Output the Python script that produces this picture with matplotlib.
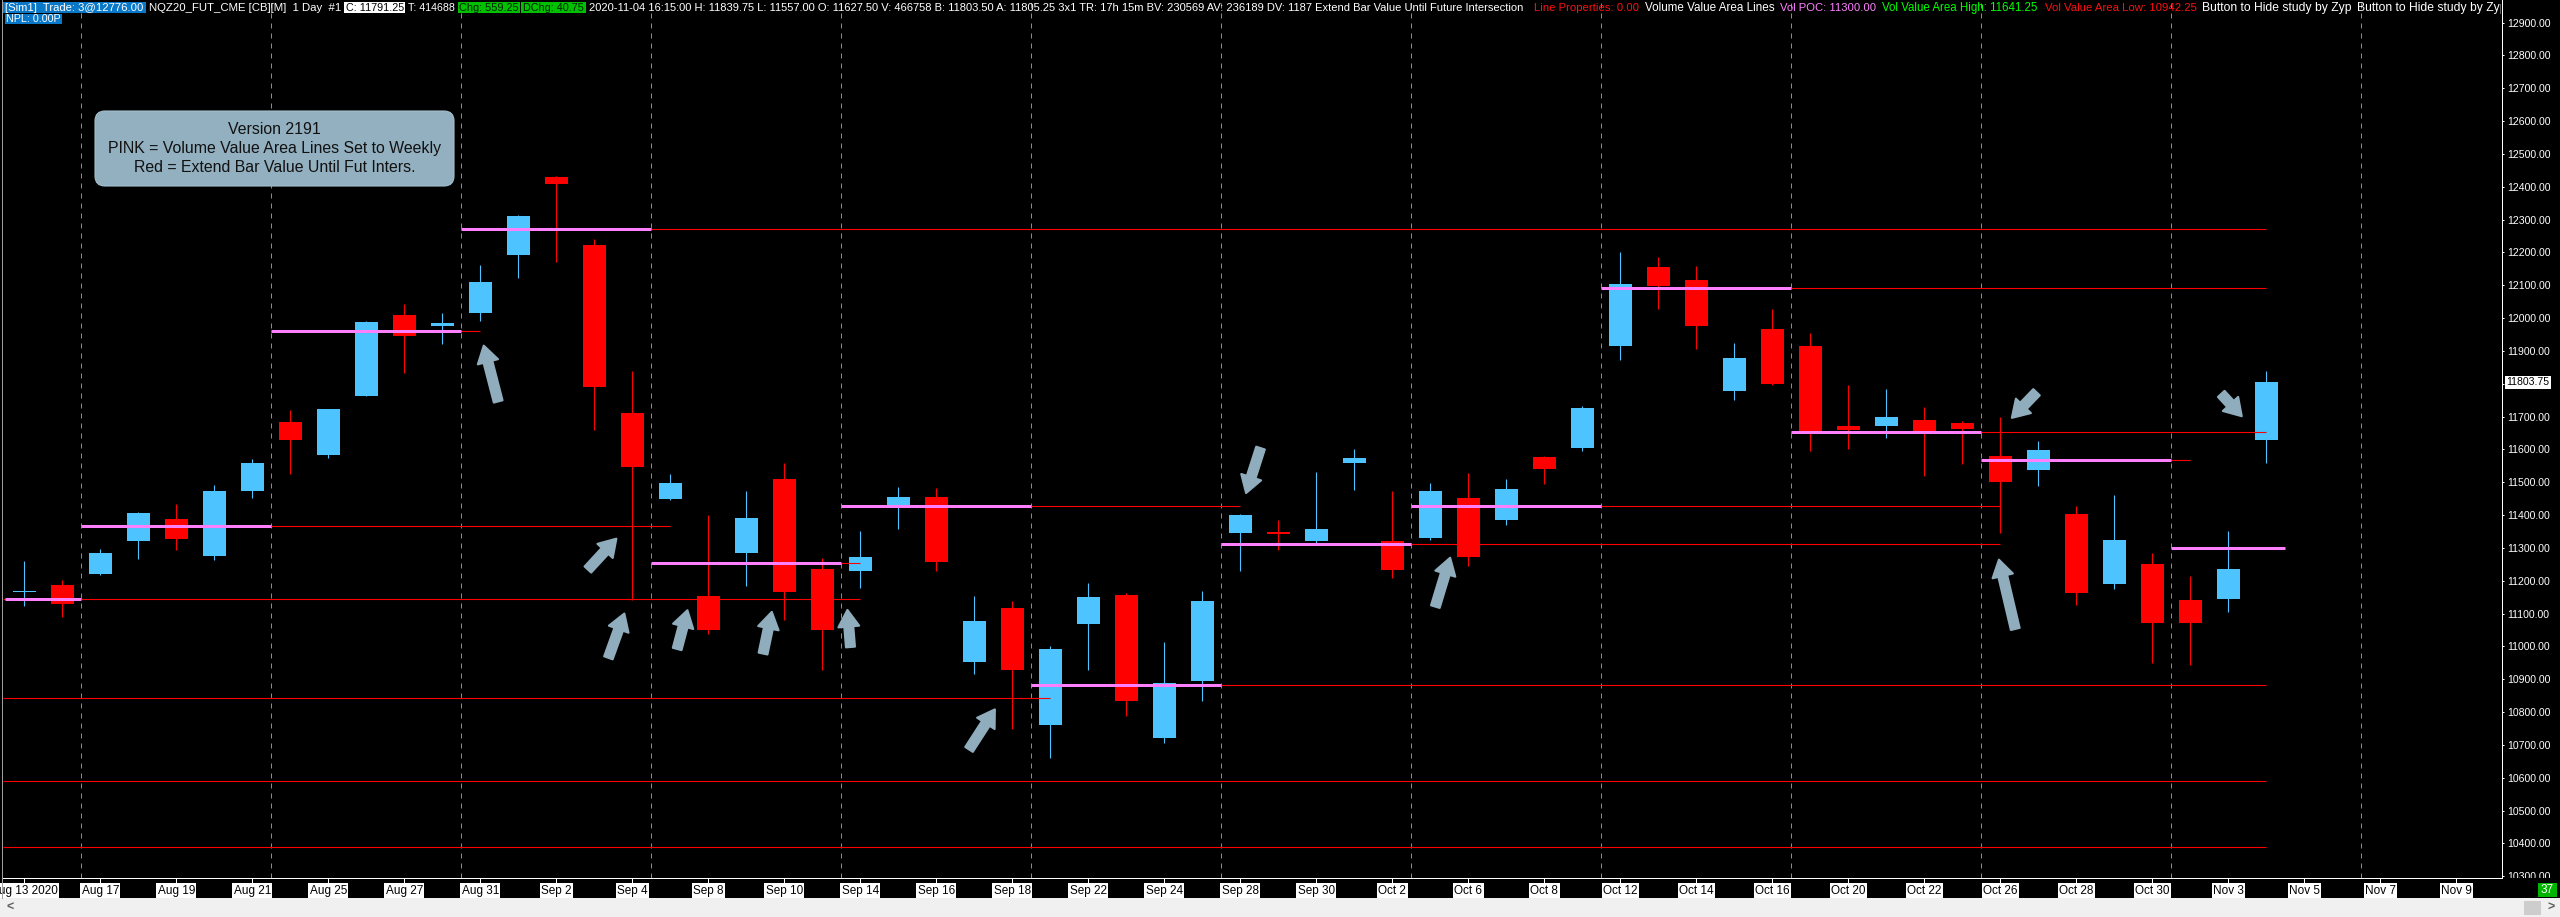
import numpy as np
import matplotlib
matplotlib.use("Agg")
import matplotlib.pyplot as plt
from matplotlib.patches import FancyArrowPatch, FancyBboxPatch, Rectangle
from matplotlib.transforms import IdentityTransform, Bbox
from matplotlib.lines import Line2D

plt.rcParams['font.family'] = ['Liberation Sans', 'DejaVu Sans']

# ---------------- data ----------------
dates = ["Aug 13", "Aug 14", "Aug 17", "Aug 18", "Aug 19", "Aug 20", "Aug 21",
         "Aug 24", "Aug 25", "Aug 26", "Aug 27", "Aug 28", "Aug 31",
         "Sep 1", "Sep 2", "Sep 3", "Sep 4", "Sep 7", "Sep 8", "Sep 9", "Sep 10", "Sep 11",
         "Sep 14", "Sep 15", "Sep 16", "Sep 17", "Sep 18", "Sep 21", "Sep 22", "Sep 23",
         "Sep 24", "Sep 25", "Sep 28", "Sep 29", "Sep 30",
         "Oct 1", "Oct 2", "Oct 5", "Oct 6", "Oct 7", "Oct 8", "Oct 9", "Oct 12", "Oct 13",
         "Oct 14", "Oct 15", "Oct 16", "Oct 19", "Oct 20", "Oct 21", "Oct 22", "Oct 23",
         "Oct 26", "Oct 27", "Oct 28", "Oct 29", "Oct 30", "Nov 2", "Nov 3", "Nov 4"]

opens = [11167, 11187.5, 11221.5, 11322, 11387.5, 11275.75, 11474.5,
         11683.75, 11583.25, 11764, 12008.75, 11974.75, 12014.25,
         12192.25, 12430.25, 12222.25, 11711, 11450, 11153.5, 11285.5, 11509.75, 11235,
         11231, 11420, 11455.25, 10951, 11116.75, 10759, 11069, 11156,
         10719.75, 10895, 11344, 11348, 11320.75,
         11557.25, 11319.5, 11329, 11451.25, 11386, 11576.5, 11605, 11916.25, 12155.5,
         12116.25, 11777.5, 11966.5, 11915, 11671.5, 11671.5, 11689.25, 11679.75,
         11580.5, 11537, 11403.5, 11190.25, 11251.5, 11141.25, 11145.25, 11627.5]
highs = [11259.5, 11201, 11296, 11410.5, 11433.5, 11492, 11571,
         11720.5, 11723.25, 11991, 12042.75, 12015.5, 12161,
         12313.5, 12433, 12240, 11838.75, 11524.75, 11399.5, 11473, 11558.75, 11269,
         11352, 11485.25, 11481.25, 11153.5, 11138.5, 11001, 11193, 11163,
         11013.5, 11168.5, 11402.25, 11386, 11531.5,
         11602.25, 11473, 11499, 11527.5, 11509.75, 11580.5, 11732.75, 12200.5, 12185.5,
         12158.5, 11924.5, 12027.75, 11954.5, 11796.5, 11784.5, 11728.75, 11686.5,
         11698.75, 11625.25, 11428, 11460.75, 11284, 11214.5, 11352, 11839.75]
lows = [11123.5, 11089.5, 11218.75, 11265, 11295, 11263.5, 11452.5,
        11526, 11572.25, 11761.25, 11833.5, 11920.5, 11992.5,
        12121.5, 12172, 11658, 11141.25, 11444.5, 11038, 11184.75, 11078.75, 10926.5,
        11179.25, 11356, 11228.25, 10917, 10747, 10659.75, 10926.5, 10787.75,
        10706, 10835, 11231, 11295, 11314,
        11477, 11209.25, 11324.75, 11243.25, 11368.25, 11493.5, 11594, 11872.75, 12026.5,
        11906.75, 11750.5, 11796.5, 11595.5, 11600.75, 11634.75, 11518, 11556,
        11345.25, 11488, 11126.25, 11175.25, 10948, 10944, 11106, 11557]
closes = [11169, 11130.5, 11284, 11406.5, 11327.5, 11473, 11558.75,
          11629.5, 11723.25, 11988.5, 11946.25, 11984.25, 12109.5,
          12310.75, 12407.25, 11791.25, 11545, 11497.5, 11048.75, 11391.5, 11164.25, 11050,
          11271.75, 11455.25, 11255.5, 11077.25, 10929, 10991.5, 11150.75, 10832.5,
          10889.5, 11138.5, 11399.5, 11341, 11358.75,
          11575, 11233.75, 11471.75, 11273, 11478.5, 11541, 11727.25, 12105.25, 12097.25,
          11976.25, 11878.25, 11799.5, 11656.5, 11659.25, 11698.75, 11656.5, 11662,
          11500.25, 11598, 11163, 11323.5, 11072, 11072, 11235, 11803.75]

x_tick_labels = ["Aug 13 2020", "Aug 17", "Aug 19", "Aug 21", "Aug 25", "Aug 27", "Aug 31",
                 "Sep 2", "Sep 4", "Sep 8", "Sep 10", "Sep 14", "Sep 16", "Sep 18", "Sep 22",
                 "Sep 24", "Sep 28", "Sep 30", "Oct 2", "Oct 6", "Oct 8", "Oct 12", "Oct 14",
                 "Oct 16", "Oct 20", "Oct 22", "Oct 26", "Oct 28", "Oct 30", "Nov 3", "Nov 5",
                 "Nov 7", "Nov 9"]

price_ticks = list(range(10300, 13000, 100))

# week separators (bar-index boundaries)
week_separators = [1.5, 6.5, 11.5, 16.5, 21.5, 26.5, 31.5, 36.5, 41.5, 46.5, 51.5, 56.5, 61.5]

# weekly volume value area lines (pink)
pink_start = [-0.5, 1.5, 6.5, 11.5, 16.5, 21.5, 26.5, 31.5, 36.5, 41.5, 46.5, 51.5, 56.5]
pink_end = [1.5, 6.5, 11.5, 16.5, 21.5, 26.5, 31.5, 36.5, 41.5, 46.5, 51.5, 56.5, 59.5]
pink_levels = [11144, 11366, 11960, 12270, 11253, 11427, 10882, 11311, 11427, 12093,
               11652.5, 11568, 11300]

# extend-bar-value lines (red); None start = from left edge
ext_levels = [11144, 10842, 10591, 10388, 11366, 11960, 12270, 11253, 11427, 10882,
              11311, 11427, 12093, 11652.5, 11568]
ext_start = [None, None, None, None, 1.5, 6.5, 11.5, 16.5, 21.5, 26.5,
             31.5, 36.5, 41.5, 46.5, 51.5]
ext_end = [22, 27, 59, 59, 17, 12, 59, 22, 32, 59, 52, 52, 59, 59, 57]

# annotation arrows: (bar index, price) tail -> head
arrow_tail = [(12.47, 11746), (14.83, 11234), (15.37, 10965), (17.18, 10992),
              (19.44, 10978), (21.74, 10998), (24.86, 10686), (32.53, 11604),
              (37.13, 11121), (52.95, 11774), (52.39, 11053), (57.81, 11769)]
arrow_head = [(12.09, 11916), (15.58, 11328), (15.79, 11100), (17.45, 11110),
              (19.67, 11105), (21.66, 11111), (25.54, 10808), (32.15, 11467),
              (37.52, 11270), (52.30, 11696), (51.96, 11264), (58.35, 11701)]

# ---------------- styling ----------------
W, H = 2560, 917
BLUE = '#4dc4ff'
RED = '#ff0000'
PINK = '#ff80ff'
ARROW = '#8fadbd'
PX = 0.72  # one pixel in points

fig = plt.figure(figsize=(W / 100, H / 100), dpi=100, facecolor='black')

AX_L, AX_R, AX_B = 3, 2501.7, 878
ax = fig.add_axes([AX_L / W, 1 - AX_B / H, (AX_R - AX_L) / W, AX_B / H])
ax.set_facecolor('black')
ax.set_xlim(-0.56, 65.19)
ax.set_ylim(10294.4, 12968.8)
xmin = ax.get_xlim()[0]

for s in ('top', 'left'):
    ax.spines[s].set_visible(False)
for s in ('bottom', 'right'):
    ax.spines[s].set_color('white')
    ax.spines[s].set_linewidth(1.0 * PX)

# week separators
for xs in week_separators:
    ax.axvline(xs, color='#8a8a8a', lw=1 * PX, linestyle=(0, (5, 5)), zorder=1)

# candles
o = np.array(opens); h = np.array(highs); l = np.array(lows); c = np.array(closes)
xi = np.arange(len(dates))
cols = np.where(c >= o, BLUE, RED)
ax.vlines(xi, l, h, colors=cols, lw=1.1 * PX, zorder=3)
body_bottom = np.minimum(o, c)
body_h = np.maximum(np.abs(c - o), 3.0)
ax.bar(xi, body_h, bottom=body_bottom, width=0.6, color=cols, linewidth=0, zorder=3)

# red extension lines
starts = [xmin if s is None else s for s in ext_start]
ax.hlines(ext_levels, starts, ext_end, colors=RED, lw=1.1 * PX, zorder=4)
# pink weekly lines
ax.hlines(pink_levels, pink_start, pink_end, colors=PINK, lw=3 * PX, zorder=5)

# arrows
astyle = "Simple,tail_width=6.5,head_width=15,head_length=12"
for t, hd in zip(arrow_tail, arrow_head):
    ax.add_patch(FancyArrowPatch(t, hd, arrowstyle=astyle, mutation_scale=1,
                                 fc=ARROW, ec=ARROW, lw=1.5, joinstyle='round',
                                 capstyle='round', shrinkA=0, shrinkB=0, zorder=8))

# y axis on right
ax.yaxis.tick_right()
ax.set_yticks(price_ticks)
cur = closes[-1]
ax.set_yticklabels(['' if abs(p - cur) < 40 else f"{p:.2f}" for p in price_ticks])
ax.tick_params(axis='y', direction='out', length=2.5 * PX, width=1 * PX, colors='white',
               pad=3 * PX, labelsize=7.6)
clipbox = Bbox.from_extents(AX_R, H - AX_B, W, H)
for lbl in ax.get_yticklabels():
    lbl.set_clip_box(clipbox)
    lbl.set_clip_on(True)

# x axis
ax.set_xticks(np.arange(0, 2 * len(x_tick_labels), 2))
ax.set_xticklabels(x_tick_labels)
ax.tick_params(axis='x', direction='out', length=4.5 * PX, width=1 * PX, color='white',
               labelcolor='black', labelsize=8.5, pad=1.5)
for lbl in ax.get_xticklabels():
    lbl.set_bbox(dict(boxstyle='square,pad=0.12', fc='white', ec='none'))

# current price label
ax.text(1 + 4.5 / (AX_R - AX_L), cur, f"{cur:.2f}", transform=ax.get_yaxis_transform(),
        ha='left', va='center', fontsize=7.6, color='black', clip_on=False, zorder=10,
        bbox=dict(boxstyle='square,pad=0.15', fc='white', ec='none'))


def fx(px):
    return px / W


def fy(py):
    return 1 - py / H


def rect(x0, x1, y0, y1, color, z=2):
    fig.add_artist(Rectangle((fx(x0), fy(y1)), fx(x1) - fx(x0), fy(y0) - fy(y1),
                             transform=fig.transFigure, fc=color, ec='none', zorder=z))


# scrollbar / frame
rect(0, W, 898, H, '#f0f0f0')
rect(2524, 2541, 901, 915, '#cdcdcd', z=2.1)
fig.text(fx(10), fy(907.5), "<", color='#606060', fontsize=9, ha='center', va='center',
         fontweight='bold')
fig.text(fx(2551), fy(907.5), ">", color='#606060', fontsize=9, ha='center', va='center',
         fontweight='bold')
fig.add_artist(Line2D([fx(1.5), fx(1.5)], [fy(898), 1], transform=fig.transFigure,
                      color='#a0a0a0', lw=1 * PX))
rect(2538, 2557, 883, 897, '#00b400')
fig.text(fx(2547.5), fy(890), "37", color='white', fontsize=8.5, ha='center', va='center',
         zorder=5)

# info box
fig.add_artist(FancyBboxPatch((95, H - 186), 359, 75,
                              boxstyle='round,pad=0,rounding_size=10',
                              transform=IdentityTransform(), fc='#93b0c0', ec='#a5bfcc',
                              lw=0.8, zorder=4))
box_lines = ["Version 2191", "PINK = Volume Value Area Lines Set to Weekly",
             "Red = Extend Bar Value Until Fut Inters."]
box_y = [130, 148.5, 167]
box_txt = [fig.text(fx(274.5), fy(yy), s, ha='center', va='center', fontsize=10.8,
                    color='#111111', zorder=5) for s, yy in zip(box_lines, box_y)]

# header
rect(3, 146, 2, 13, '#0a78c8', z=3)
rect(344, 405, 2, 13, 'white', z=3)
rect(457.5, 520, 2, 13, '#00c000', z=3)
rect(521, 585.5, 2, 13, '#00c000', z=3)
rect(4.6, 62, 13.5, 23.5, '#0a78c8', z=3)

header = [
    (5, 144, "[Sim1]  Trade: 3@12776.00", 'white'),
    (149, 341, "NQZ20_FUT_CME [CB][M]  1 Day  #1", 'white'),
    (346, 404, "C: 11791.25", 'black'),
    (408, 455, "T: 414688", 'white'),
    (459, 519, "Chg: 559.25", '#002000'),
    (523, 584, "DChg: 40.75", '#002000'),
    (589, 1527, "2020-11-04 16:15:00 H: 11839.75 L: 11557.00 O: 11627.50 V: 466758 "
                "B: 11803.50 A: 11805.25 3x1 TR: 17h 15m BV: 230569 AV: 236189 DV: 1187 "
                "Extend Bar Value Until Future Intersection", 'white'),
    (1534, 1639, "Line Properties: 0.00", '#ff1010'),
    (1645, 1774, "Volume Value Area Lines", 'white'),
    (1780, 1876, "Vol POC: 11300.00", PINK),
    (1882, 2037.5, "Vol Value Area High: 11641.25", '#00ff00'),
    (2045, 2196.5, "Vol Value Area Low: 10942.25", '#ff1010'),
    (2202, 2351, "Button to Hide study by Zyp", 'white'),
    (2357, 2506, "Button to Hide study by Zyp", 'white'),
]
fig.canvas.draw()
rnd = fig.canvas.get_renderer()
hclip = Bbox.from_extents(0, 0, AX_R - 1, H)
for x0, x1, s, col in header:
    t = fig.text(fx(x0), fy(7.8), s, ha='left', va='center', fontsize=8.2, color=col,
                 zorder=6)
    w = t.get_window_extent(rnd).width
    t.set_fontsize(8.2 * (x1 - x0) / w)
    t.set_clip_box(hclip)
    t.set_clip_on(True)
t = fig.text(fx(6), fy(18.5), "NPL: 0.00P", ha='left', va='center', fontsize=8.2,
             color='white', zorder=6)
w = t.get_window_extent(rnd).width
t.set_fontsize(8.2 * 55 / w)

w = box_txt[1].get_window_extent(rnd).width
fs = 10.8 * 335 / w
for t in box_txt:
    t.set_fontsize(fs)

fig.savefig("out.png", dpi=100, facecolor='black')
